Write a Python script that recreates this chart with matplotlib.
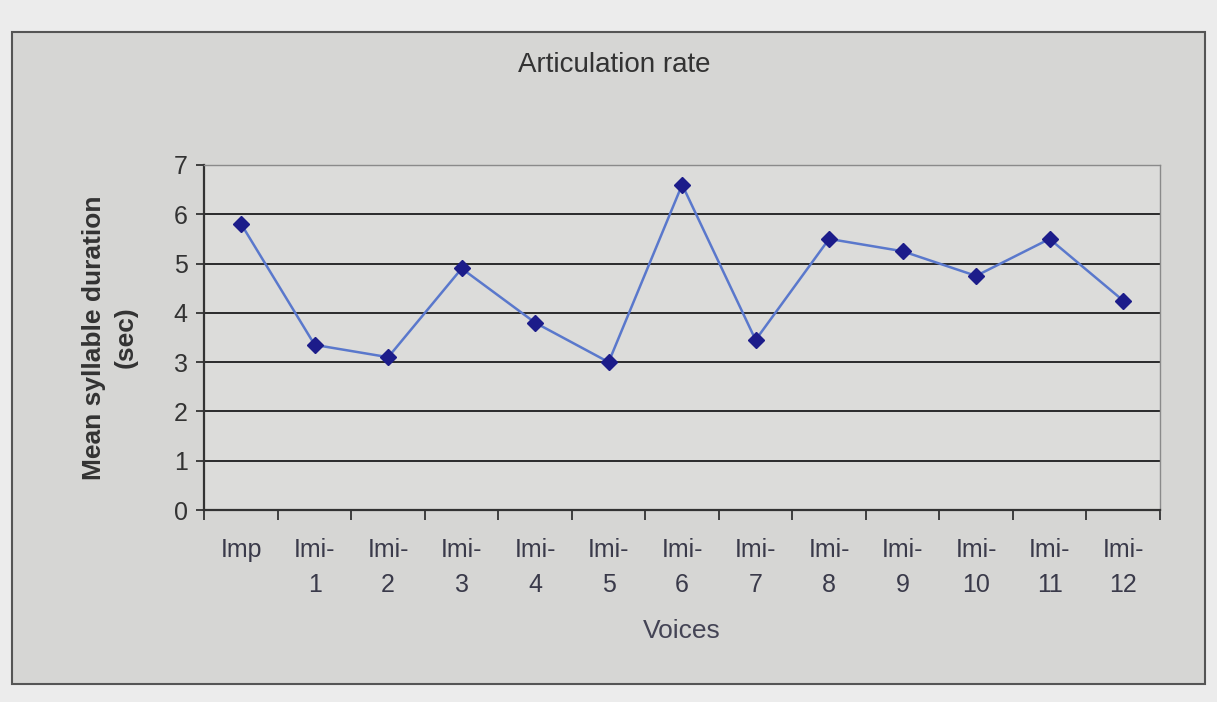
import matplotlib
matplotlib.use("Agg")
import matplotlib.pyplot as plt
from matplotlib.patches import Rectangle

plt.rcParams["font.family"] = ["Liberation Sans", "DejaVu Sans"]

categories = ["Imp", "Imi-\n1", "Imi-\n2", "Imi-\n3", "Imi-\n4", "Imi-\n5", "Imi-\n6",
              "Imi-\n7", "Imi-\n8", "Imi-\n9", "Imi-\n10", "Imi-\n11", "Imi-\n12"]
values = [5.8, 3.35, 3.1, 4.9, 3.8, 3.0, 6.6, 3.45, 5.5, 5.25, 4.75, 5.5, 4.25]
yticks = [0, 1, 2, 3, 4, 5, 6, 7]

fig = plt.figure(figsize=(12.17, 7.02), dpi=100)
fig.patch.set_facecolor("#ececec")
bg = fig.add_axes([0, 0, 1, 1], zorder=-5)
bg.set_axis_off()
bg.set_xlim(0, 1)
bg.set_ylim(0, 1)
bg.add_patch(Rectangle((0.01, 0.025), 0.98, 0.93, facecolor="#d6d6d4",
                       edgecolor="#555555", linewidth=1.5))

ax = fig.add_axes([0.168, 0.2735, 0.785, 0.4915], zorder=1)
ax.set_facecolor("#dcdcda")
x = list(range(len(categories)))
ax.plot(x, values, color="#5a78cc", linewidth=1.8, marker="D", markersize=8,
        markerfacecolor="#1c1c8a", markeredgecolor="#1c1c8a", zorder=3)

ax.set_xlim(-0.5, len(categories) - 0.5)
ax.set_ylim(0, 7)
ax.set_yticks(yticks)
ax.yaxis.grid(True, color="#2b2b2b", linewidth=1.4)
ax.set_axisbelow(True)
ax.set_xticks([i - 0.5 for i in range(len(categories) + 1)])
ax.set_xticklabels([])
ax.set_xticks(x, minor=True)
ax.set_xticklabels(categories, minor=True, fontsize=18, color="#3a3a4a", linespacing=1.6)
ax.tick_params(axis="x", which="minor", length=0, pad=20)
ax.tick_params(axis="x", which="major", length=7, width=1.3, color="#333333", direction="out")
ax.tick_params(axis="y", length=6, width=1.3, color="#333333", labelsize=18, labelcolor="#333333", pad=6)

for s in ["top", "right"]:
    ax.spines[s].set_color("#8a8a8a")
    ax.spines[s].set_linewidth(1.0)
for s in ["left", "bottom"]:
    ax.spines[s].set_color("#333333")
    ax.spines[s].set_linewidth(1.6)

ax.set_xlabel("Voices", fontsize=19, color="#444455", labelpad=16)
ax.set_ylabel("Mean syllable duration\n(sec)", fontsize=19, color="#333333", labelpad=26,
              fontweight="bold", linespacing=1.4)
fig.text(0.505, 0.907, "Articulation rate", ha="center", va="center", fontsize=20, color="#333333")

fig.savefig("out.png", dpi=100, facecolor=fig.get_facecolor())
